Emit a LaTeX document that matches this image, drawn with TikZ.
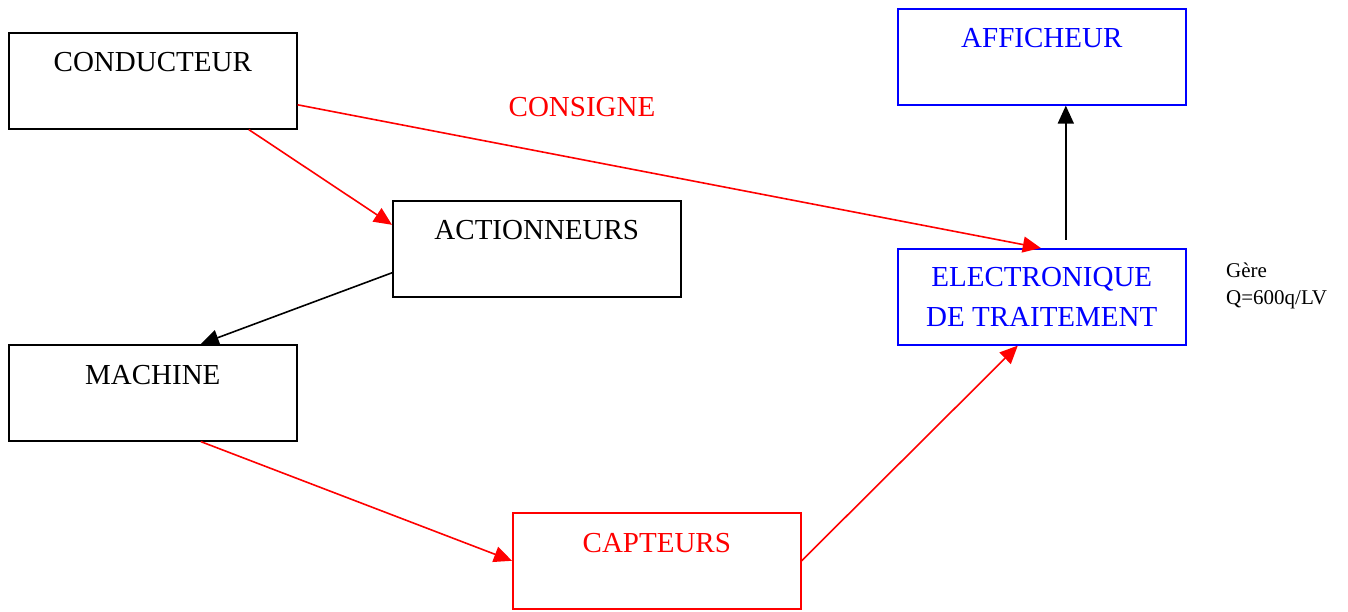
\documentclass[tikz,border=0pt]{standalone}
\usepackage{fontspec}
\setmainfont{Liberation Serif}
\usetikzlibrary{arrows.meta}
\definecolor{pred}{RGB}{255,0,0}
\definecolor{pblue}{RGB}{0,0,255}
\begin{document}
\begin{tikzpicture}[x=1pt,y=-1pt,
  box/.style={draw, line width=1.6pt, minimum width=288pt, minimum height=96pt,
              inner sep=0pt, anchor=north west},
  boxtext/.style={inner sep=0pt, font=\fontsize{29}{40}\selectfont},
  link/.style={line width=1.6pt, -{Triangle[length=18pt,width=16pt]}},
  redlink/.style={link, draw=pred, fill=pred},
  blacklink/.style={link, draw=black, fill=black}]
\useasboundingbox (0,0) rectangle (1348,612);

% blocks
\node[box] (cond) at (8,32) {};
\node[box] (act) at (392,200) {};
\node[box] (mach) at (8,344) {};
\node[box, draw=pred] (capt) at (512,512) {};
\node[box, draw=pblue] (elec) at (897,248) {};
\node[box, draw=pblue] (aff) at (897,8) {};

% block titles
\node[boxtext, anchor=base] (condt) at ([yshift=-40pt]cond.north) {CONDUCTEUR};
\node[boxtext, anchor=base] (actt) at ([yshift=-40pt]act.north) {ACTIONNEURS};
\node[boxtext, anchor=base] (macht) at ([yshift=-40pt]mach.north) {MACHINE};
\node[boxtext, anchor=base, text=pred] (captt) at ([yshift=-40pt]capt.north) {CAPTEURS};
\node[boxtext, anchor=base, text=pblue] (afft) at ([yshift=-40pt]aff.north) {AFFICHEUR};
\node[boxtext, align=center, anchor=center, text=pblue] (elect) at (elec.center)
  {ELECTRONIQUE\\DE TRAITEMENT};

% free labels
\node[boxtext, anchor=base, text=pred] (consigne) at (582,117) {CONSIGNE};
\node[inner sep=0pt, anchor=north west, align=left,
      font=\fontsize{21}{27}\selectfont] (gere) at (1226,263) {Gère\\Q=600q/LV};

% connections
\draw[redlink] ([xshift=96pt]cond.south) -- ([yshift=24pt]act.west);
\draw[redlink] ([yshift=-24pt]cond.east) -- ([xshift=-1pt]elec.north);
\draw[blacklink] ([yshift=-24pt]act.west) -- ([xshift=48pt]mach.north);
\draw[redlink] ([xshift=48pt]mach.south) -- (capt.west);
\draw[redlink] (capt.east) -- ([xshift=-24pt]elec.south);
\draw[blacklink] ([xshift=24pt,yshift=8pt]elec.north) -- ([xshift=24pt]aff.south);
\end{tikzpicture}
\end{document}
